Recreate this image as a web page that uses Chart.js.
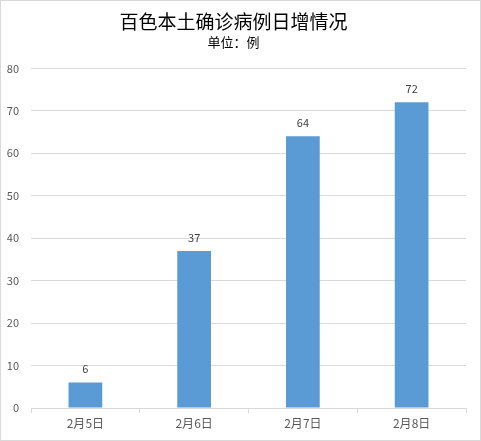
<!DOCTYPE html>
<html>
<head>
<meta charset="utf-8">
<script src="https://cdn.jsdelivr.net/npm/chart.js@4/dist/chart.umd.min.js"></script>
<style>
  body { margin: 0; background: #fff; }
  .chart-box { width: 481px; height: 441px; box-sizing: border-box; border: 1px solid #d9d9d9; }
</style>
</head>
<body>
<div class="chart-box"><canvas id="chart" width="479" height="439"></canvas></div>
<script>
var days = ['2月5日', '2月6日', '2月7日', '2月8日'];
var cases = [6, 37, 64, 72];
var yTicks = [0, 10, 20, 30, 40, 50, 60, 70, 80];

var fontFamily = "'Noto Sans CJK SC', 'Microsoft YaHei', sans-serif";

// labels above bars
var barLabels = {
    id: 'barLabels',
    afterDatasetsDraw: function (chart) {
        var ctx = chart.ctx;
        var meta = chart.getDatasetMeta(0);
        ctx.save();
        ctx.fillStyle = '#404040';
        ctx.font = '11px ' + fontFamily;
        ctx.textAlign = 'center';
        ctx.textBaseline = 'bottom';
        meta.data.forEach(function (bar, i) {
            ctx.fillText(cases[i], bar.x, bar.y - 8);
        });
        ctx.restore();
    }
};

new Chart(document.getElementById('chart').getContext('2d'), {
    type: 'bar',
    data: {
        labels: days,
        datasets: [{
            data: cases,
            backgroundColor: '#5b9bd5',
            barPercentage: 0.31,
            categoryPercentage: 1
        }]
    },
    options: {
        responsive: false,
        animation: false,
        layout: { padding: { right: 14, left: 0, bottom: 0, top: 0 } },
        plugins: {
            legend: { display: false },
            tooltip: { enabled: false },
            title: {
                display: true,
                text: '百色本土确诊病例日增情况',
                color: '#000000',
                font: { size: 19, family: fontFamily, weight: 'normal' },
                padding: { top: 9, bottom: 0 }
            },
            subtitle: {
                display: true,
                text: '单位：例',
                color: '#000000',
                font: { size: 13, family: fontFamily },
                padding: { top: 1, bottom: 19 }
            }
        },
        scales: {
            x: {
                offset: true,
                grid: { offset: true, drawOnChartArea: false, drawTicks: true, tickLength: 5, color: '#d9d9d9' },
                border: { display: true, color: '#d9d9d9' },
                ticks: { color: '#595959', font: { size: 12, family: fontFamily }, padding: 3 },
                afterFit: function (scale) { scale.height = 32; }
            },
            y: {
                min: 0,
                max: 80,
                afterBuildTicks: function (scale) {
                    scale.ticks = yTicks.map(function (v) { return { value: v }; });
                },
                grid: { color: '#d9d9d9', drawTicks: false },
                border: { display: false },
                ticks: { color: '#595959', font: { size: 11, family: fontFamily }, padding: 12 },
                afterFit: function (scale) { scale.width = 30; }
            }
        }
    },
    plugins: [barLabels]
});
</script>
</body>
</html>
